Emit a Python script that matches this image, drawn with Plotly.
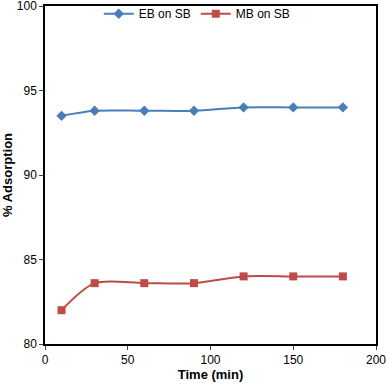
import plotly.graph_objects as go

time_min = [10, 30, 60, 90, 120, 150, 180]
eb_on_sb = [93.5, 93.8, 93.8, 93.8, 94.0, 94.0, 94.0]
mb_on_sb = [82.0, 83.6, 83.6, 83.6, 84.0, 84.0, 84.0]

fig = go.Figure()
fig.add_trace(go.Scatter(x=time_min, y=eb_on_sb, name="EB on SB", mode="lines+markers",
                         line=dict(color="#4A7EBB", width=2, shape="spline", smoothing=0.8),
                         marker=dict(symbol="diamond", size=8, color="#4A7EBB")))
fig.add_trace(go.Scatter(x=time_min, y=mb_on_sb, name="MB on SB", mode="lines+markers",
                         line=dict(color="#BE4B48", width=2, shape="spline", smoothing=0.8),
                         marker=dict(symbol="square", size=8, color="#BE4B48")))

fig.update_layout(
    width=387, height=387,
    margin=dict(l=45, r=11, t=6, b=43, autoexpand=False),
    paper_bgcolor="white", plot_bgcolor="white",
    font=dict(family="Arial, Liberation Sans", size=12, color="black"),
    showlegend=True,
    legend=dict(orientation="h", x=0.46, xanchor="center", y=1.02, yanchor="top",
                bgcolor="rgba(0,0,0,0)", font=dict(size=12), itemwidth=30,
                tracegroupgap=0),
    xaxis=dict(range=[0, 200], dtick=50, ticks="outside", ticklen=4, showgrid=False,
               zeroline=False, showline=True, linecolor="black", linewidth=1.5, mirror=True,
               automargin=False, ticklabeloverflow="allow",
               title=dict(text="<b>Time (min)</b>", font=dict(size=13), standoff=4)),
    yaxis=dict(range=[80, 100], dtick=5, ticks="outside", ticklen=4, showgrid=False,
               zeroline=False, showline=True, linecolor="black", linewidth=1.5, mirror=True,
               automargin=False, ticklabeloverflow="allow",
               title=dict(text="<b>% Adsorption</b>", font=dict(size=13), standoff=8)),
)

fig.write_html("out.html", config={"displayModeBar": False},
               post_script="document.body.style.margin='0';")
